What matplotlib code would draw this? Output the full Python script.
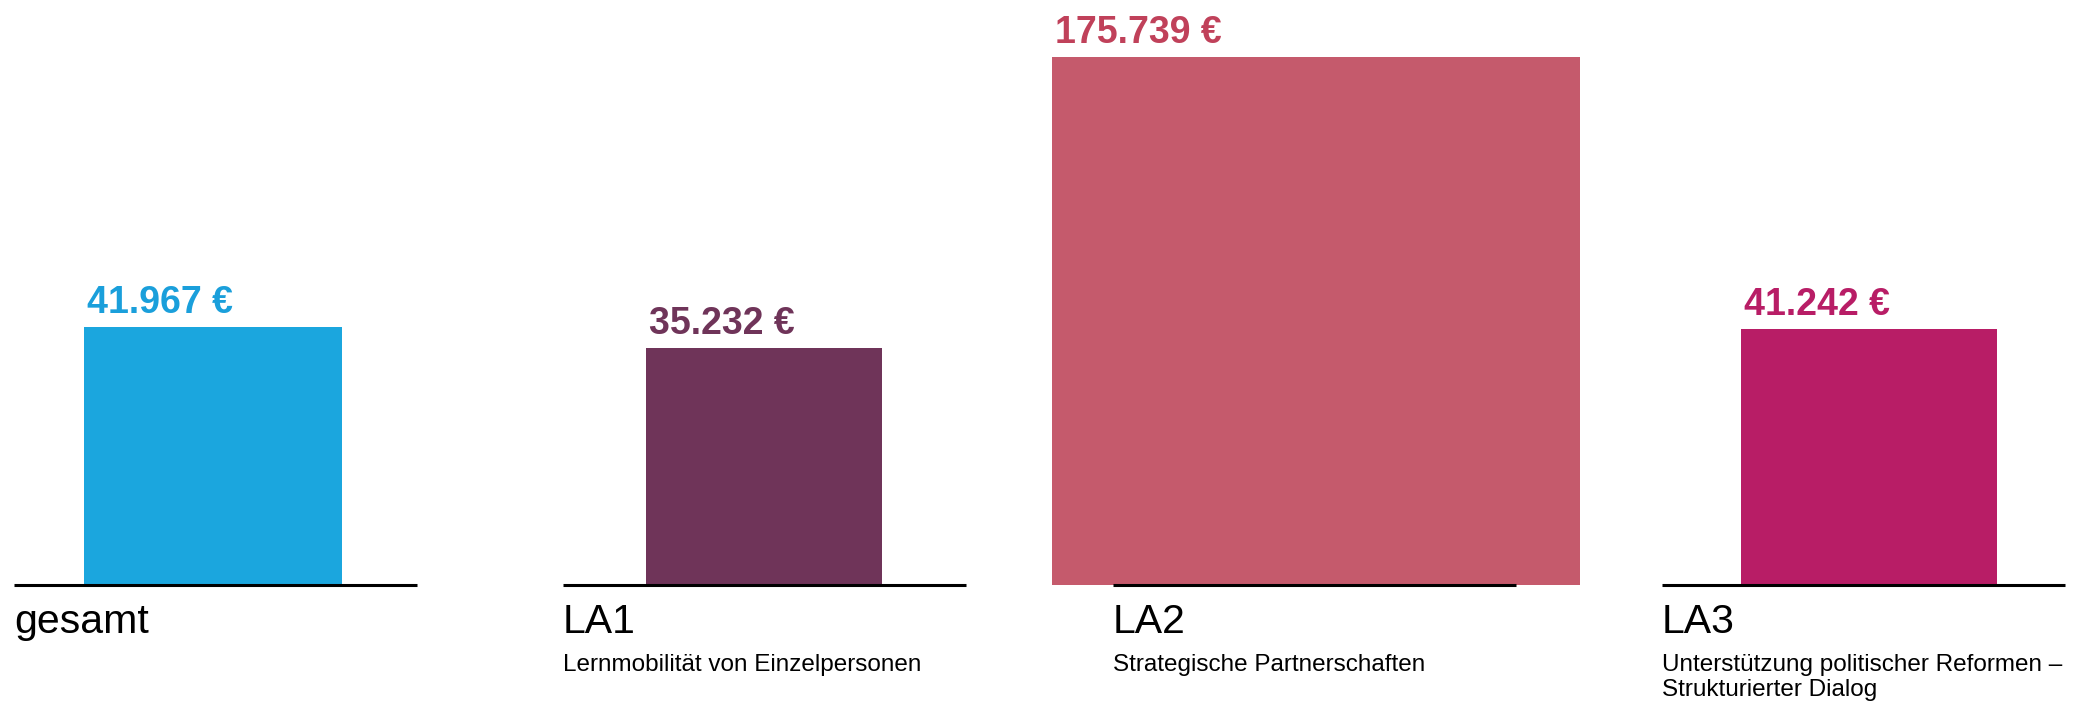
import numpy as np
import matplotlib
matplotlib.use("Agg")
import matplotlib.pyplot as plt

# data
categories = ["gesamt", "LA1", "LA2", "LA3"]
subtitles = ["", "Lernmobilität von Einzelpersonen", "Strategische Partnerschaften",
             "Unterstützung politischer Reformen –\nStrukturierter Dialog"]
values = [41967, 35232, 175739, 41242]
value_labels = ["41.967 €", "35.232 €", "175.739 €", "41.242 €"]

bar_colors = ["#1ba6de", "#6f3459", "#c55a6c", "#b81d66"]
text_colors = ["#1a9fdb", "#6f3459", "#c0415a", "#b81d66"]

# layout (pixel units, y grows downward)
W, H = 2089, 705
baseline = 585
centers = [213, 764, 1316, 1869]
line_x0 = [14, 563, 1113, 1662]
line_len = 403
scale = 1.26      # square side ~ sqrt(value), area proportional to value

plt.rcParams['font.family'] = ['Liberation Sans', 'DejaVu Sans']

fig = plt.figure(figsize=(W / 100, H / 100), dpi=100)
ax = fig.add_axes([0, 0, 1, 1])
ax.set_xlim(0, W)
ax.set_ylim(H, 0)
ax.axis("off")

sides = scale * np.sqrt(values)

ax.bar(centers, sides, bottom=baseline - sides, width=sides,
       color=bar_colors, align="center", zorder=1)

for i in range(len(categories)):
    ax.plot([line_x0[i], line_x0[i] + line_len], [baseline, baseline],
            color="black", lw=2.2, solid_capstyle="butt", zorder=2)
    left = centers[i] - sides[i] / 2
    ax.text(left + 3, baseline - sides[i] - 14, value_labels[i],
            color=text_colors[i], fontsize=27, fontweight="bold",
            ha="left", va="baseline")
    ax.text(line_x0[i], 633, categories[i], fontsize=29.5, color="black",
            ha="left", va="baseline")
    if subtitles[i]:
        ax.text(line_x0[i], 654, subtitles[i], fontsize=17.5, color="black",
                ha="left", va="top", linespacing=1.2)

fig.savefig("out.png", dpi=100)
